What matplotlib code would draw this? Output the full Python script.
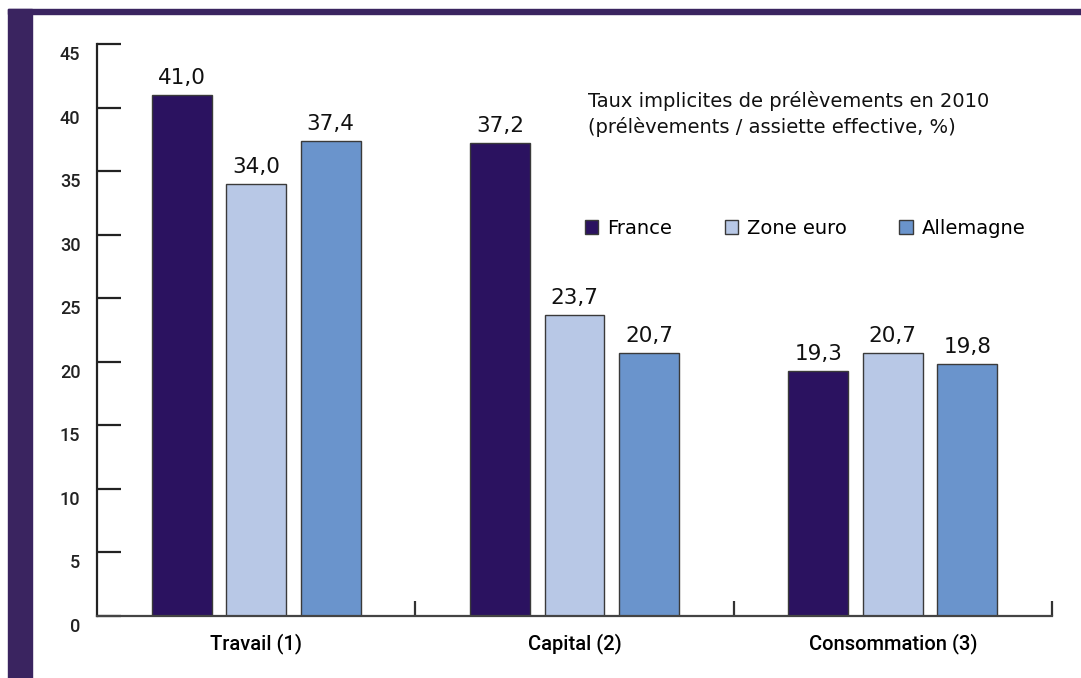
import numpy as np
import matplotlib.pyplot as plt
import matplotlib.transforms as mtransforms
from matplotlib.patches import Rectangle

# Données
categories = ['Travail (1)', 'Capital (2)', 'Consommation (3)']
series = ['France', 'Zone euro', 'Allemagne']
france = [41.0, 37.2, 19.3]
zone_euro = [34.0, 23.7, 20.7]
allemagne = [37.4, 20.7, 19.8]
couleurs = ['#2b1260', '#b8c8e6', '#6a94cc']
titre = 'Taux implicites de prélèvements en 2010\n(prélèvements / assiette effective, %)'

fig = plt.figure(figsize=(10.81, 6.78), dpi=100)

# bandeau violet (gauche + haut)
fig.patches.append(Rectangle((8 / 1081, 0), 24 / 1081, 1 - 9 / 678,
                             transform=fig.transFigure, color='#3a2460', zorder=0))
fig.patches.append(Rectangle((8 / 1081, 1 - 14 / 678), 1 - 8 / 1081, 5 / 678,
                             transform=fig.transFigure, color='#3a2460', zorder=0))

ax = fig.add_axes([97 / 1081, 1 - 616 / 678, (1052 - 97) / 1081, (616 - 44) / 678])

x = np.arange(len(categories))
w = 0.188
dx = 0.234
for i, (vals, c, nom) in enumerate(zip([france, zone_euro, allemagne], couleurs, series)):
    bars = ax.bar(x + (i - 1) * dx, vals, w, color=c, edgecolor='#3a3a3a', linewidth=1, label=nom)
    for b, v in zip(bars, vals):
        ax.text(b.get_x() + b.get_width() / 2, v + 0.55, f'{v:.1f}'.replace('.', ','),
                ha='center', va='bottom', fontsize=15.5, family='DejaVu Sans', color='#111111')

ax.set_xlim(-0.5, 2.5)
ax.set_ylim(0, 45)
ax.set_yticks(np.arange(0, 46, 5))
ax.tick_params(axis='y', direction='in', length=17, width=1.6, pad=12, labelsize=13, colors='#222222')
ax.set_xticks(x)
ax.set_xticklabels(categories, fontsize=14.5, family='Roboto', weight='medium')
ax.tick_params(axis='x', length=0, pad=12)
ax.set_xticks([0.5, 1.5, 2.5], minor=True)
ax.tick_params(axis='x', which='minor', direction='in', length=11, width=1.6, colors='#333333')
for lab in ax.get_yticklabels():
    lab.set_family('Roboto')
    lab.set_weight('medium')
    lab.set_transform(lab.get_transform() + mtransforms.ScaledTranslation(0, -9 / 100, fig.dpi_scale_trans))

for s in ['top', 'right']:
    ax.spines[s].set_visible(False)
ax.spines['left'].set_linewidth(1.6)
ax.spines['bottom'].set_linewidth(1.6)
ax.spines['left'].set_color('#222222')
ax.spines['bottom'].set_color('#444444')

ax.text(0.514, 0.918, titre, transform=ax.transAxes, fontsize=14, family='DejaVu Sans',
        va='top', ha='left', color='#111111', linespacing=1.35)

ax.legend(loc='upper left', bbox_to_anchor=(0.4925, 0.725), ncol=3, frameon=False,
          handlelength=0.7, handleheight=0.7, handletextpad=0.45, columnspacing=2.7,
          prop={'family': 'DejaVu Sans', 'size': 14})

fig.savefig('out.png', dpi=100)
